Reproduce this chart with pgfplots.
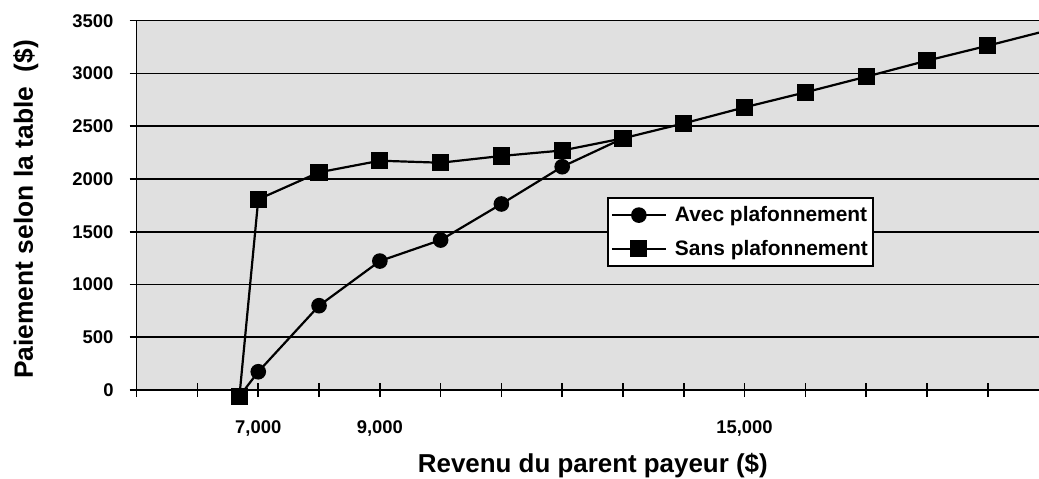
\documentclass[border=0pt]{standalone}
\usepackage{fontspec}
\setmainfont{Liberation Sans}
\usepackage{pgfplots}
\pgfplotsset{compat=1.18}
\definecolor{plotbg}{RGB}{224,224,224}
\begin{document}
\begin{tikzpicture}
\path[use as bounding box] (-136.7bp,-89bp) rectangle (902.3bp,390bp);
\begin{axis}[
  at={(0,0)}, anchor=south west,
  scale only axis, width=902.3bp, height=369.3bp,
  xmin=5000, xmax=19844, ymin=0, ymax=3500,
  clip=false,
  axis lines*=left,
  axis line style={line width=1.6bp, black},
  axis background/.style={fill=plotbg},
  ymajorgrids, grid style={line width=1.6bp, black},
  xtick={5000,6000,...,19000},
  xticklabels={{},{},{7,000},{},{9,000},{},{},{},{},{},{15,000},{},{},{},{}},
  scaled x ticks=false, scaled y ticks=false,
  ytick={0,500,...,3500},
  yticklabel={\pgfmathprintnumber[1000 sep={},fixed]{\tick}},
  tick align=center, major tick length=14bp,
  tick style={line width=1.6bp, black},
  /pgf/number format/assume math mode=true,
  yticklabel style={font=\fontsize{18.5}{20}\selectfont\bfseries, anchor=east, inner sep=0pt, xshift=-16bp},
  xticklabel style={font=\fontsize{18.5}{20}\selectfont\bfseries, anchor=north, inner sep=0pt, yshift=-23bp},
  xlabel={Revenu du parent payeur (\$)},
  ylabel={Paiement selon la table\ \ (\$)},
  xlabel style={at={([xshift=5bp,yshift=-82bp]rel axis cs:0.5,0)}, anchor=base, font=\fontsize{26}{30}\selectfont\bfseries},
  ylabel style={at={([xshift=-103.7bp,yshift=-4bp]rel axis cs:0,0.5)}, anchor=base, font=\fontsize{26.5}{30}\selectfont\bfseries},
  legend style={at={(rel axis cs:0.5212,0.5226)}, anchor=north west, draw=black, line width=1.6bp, fill=white,
    font=\fontsize{21}{24}\selectfont\bfseries, row sep=13bp, inner xsep=3bp, inner ysep=7bp},
  legend cell align=left,
  legend image code/.code={\draw[#1,mark=none] (0bp,0bp) -- (54bp,0bp);
    \draw[#1] plot coordinates {(27bp,0bp)};
    \path (60bp,0bp);},
]
\addplot[black, line width=2.2bp, mark=*, mark size=6.7bp, mark options={solid, fill=black}]
  coordinates {(6690,-60) (7000,173) (8000,799) (9000,1222) (10000,1421) (11000,1763) (12000,2116) (13000,2385)};
\addlegendentry{Avec plafonnement}
\addplot[black, line width=2.2bp, mark=square*, mark size=7.5bp, mark options={solid, fill=black}, mark indices={1,...,14}]
  coordinates {(6690,-60) (7000,1807) (8000,2063) (9000,2173) (10000,2154) (11000,2218) (12000,2270) (13000,2385)
   (14000,2527) (15000,2679) (16000,2821) (17000,2969) (18000,3121) (19000,3263) (19844,3387)};
\addlegendentry{Sans plafonnement}
\end{axis}
\end{tikzpicture}
\end{document}
